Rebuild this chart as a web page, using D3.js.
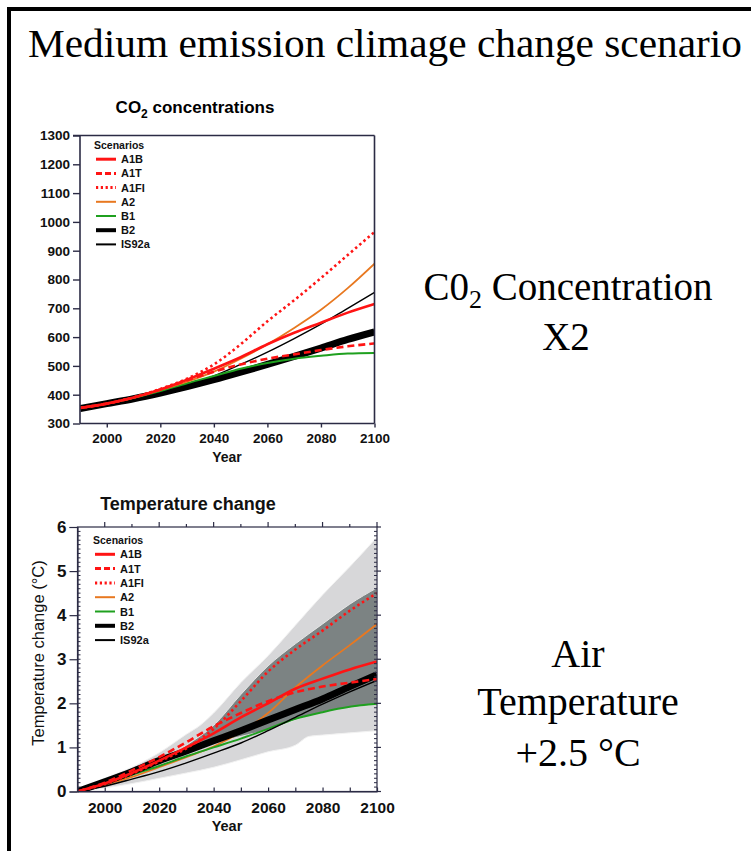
<!DOCTYPE html>
<html><head><meta charset="utf-8">
<script src="https://cdn.jsdelivr.net/npm/d3@7/dist/d3.min.js"></script>
<style>html,body{margin:0;padding:0;background:#fff;}svg{display:block;}</style>
</head><body>
<svg id="c" width="751" height="851"></svg>
<script>
// ---------- data ----------
const years = [1990,2000,2010,2020,2030,2040,2050,2060,2070,2080,2090,2100];
const scenarios = ["A1B","A1T","A1FI","A2","B1","B2","IS92a"];

// CO2 concentrations (ppm)
const co2_A1B  = [354,369,390,418,452,490,530,575,615,650,685,715];
const co2_A1T  = [354,369,390,418,450,480,505,525,540,555,568,578];
const co2_A1FI = [354,369,391,420,456,505,575,655,728,805,885,965];
const co2_A2   = [354,369,389,416,445,480,525,575,632,695,770,855];
const co2_B1   = [354,369,389,413,440,465,490,510,525,535,543,545];
const co2_B2   = [352,369,386,406,428,452,478,505,533,562,592,618];
const co2_IS92a= [354,369,388,410,436,465,505,548,595,645,700,755];

// Temperature change (°C)
const t_A1B  = [0,0.18,0.42,0.70,1.00,1.32,1.68,2.00,2.33,2.56,2.77,2.95];
const t_A1T  = [0,0.20,0.48,0.78,1.12,1.48,1.78,2.05,2.25,2.38,2.47,2.55];
const t_A1FI = [0,0.17,0.40,0.68,0.98,1.42,2.05,2.72,3.22,3.65,4.10,4.50];
const t_A2   = [0,0.15,0.33,0.55,0.78,1.02,1.35,1.78,2.36,2.86,3.32,3.80];
const t_B1   = [0,0.18,0.38,0.58,0.80,1.00,1.20,1.42,1.65,1.80,1.92,1.99];
const t_B2   = [0,0.22,0.45,0.70,0.92,1.15,1.38,1.62,1.86,2.10,2.38,2.65];
const t_IS92a= [0,0.12,0.28,0.45,0.65,0.87,1.10,1.38,1.68,1.98,2.26,2.52];

// Envelopes
const bandLightYears = [1990,2000,2010,2020,2030,2035,2040,2050,2060,2070,2075,2080,2090,2100];
const bandLightUpper = [0,0.30,0.55,0.88,1.30,1.50,1.78,2.47,3.08,3.77,4.12,4.46,5.10,5.77];
const bandLightLower = [0,0.08,0.18,0.30,0.42,0.48,0.55,0.72,0.90,1.05,1.25,1.28,1.33,1.38];
const bandDarkYears  = [2025,2030,2040,2050,2060,2070,2080,2090,2100];
const bandDarkUpper  = [0.85,1.05,1.50,2.20,2.85,3.35,3.80,4.25,4.62];
const bandDarkLower  = [0.85,0.95,1.10,1.25,1.40,1.62,1.80,1.90,1.97];

const co2Ticks = [300,400,500,600,700,800,900,1000,1100,1200,1300];
const tempTicks = [0,1,2,3,4,5,6];
const yearTicks = [2000,2020,2040,2060,2080,2100];

const styles = {
  A1B:  {color:"#ff1414", w:2.6, dash:null, lw:3},
  A1T:  {color:"#ff1414", w:2.6, dash:"7,4", lw:3},
  A1FI: {color:"#ff1414", w:2.6, dash:"2.5,3", lw:3},
  A2:   {color:"#e87820", w:1.8, dash:null, lw:2},
  B1:   {color:"#1fa01f", w:2, dash:null, lw:2},
  B2:   {color:"#000000", w:7, dash:null, lw:4},
  IS92a:{color:"#000000", w:1.4, dash:null, lw:2}
};
const co2Series = {A1B:co2_A1B,A1T:co2_A1T,A1FI:co2_A1FI,A2:co2_A2,B1:co2_B1,B2:co2_B2,IS92a:co2_IS92a};
const tSeries = {A1B:t_A1B,A1T:t_A1T,A1FI:t_A1FI,A2:t_A2,B1:t_B1,B2:t_B2,IS92a:t_IS92a};

const svg = d3.select("#c");
const sans = "Liberation Sans, Arial, Helvetica, sans-serif";
const serif = "Liberation Serif, Times New Roman, serif";

// outer frame
svg.append("path").attr("d","M9,860 L9,9 L760,9").attr("fill","none").attr("stroke","#000").attr("stroke-width",4);

// main title
svg.append("text").attr("x",28).attr("y",57).attr("font-family",serif).attr("font-size",41)
  .attr("textLength",714).attr("lengthAdjust","spacingAndGlyphs").text("Medium emission climage change scenario");

function legend(g, x0, y0, dy){
  g.append("text").attr("x",x0).attr("y",y0+4).attr("font-family",sans).attr("font-size",10.5)
    .attr("font-weight","bold").attr("fill","#111").text("Scenarios");
  scenarios.forEach((s,i)=>{
    const y = y0 + dy*(i+1);
    const st = styles[s];
    g.append("line").attr("x1",x0+2).attr("x2",x0+22).attr("y1",y).attr("y2",y)
      .attr("stroke",st.color).attr("stroke-width",st.lw).attr("stroke-dasharray",st.dash ? (s==="A1T"?"6,3":"2.2,2.6") : null);
    g.append("text").attr("x",x0+27).attr("y",y+4).attr("font-family",sans).attr("font-size",11)
      .attr("font-weight","bold").attr("fill","#111").text(s);
  });
}

// ---------- CO2 chart ----------
{
  const x = d3.scaleLinear().domain([1990,2100]).range([80,374.5]);
  const y = d3.scaleLinear().domain([300,1300]).range([423.5,135.5]);
  const g = svg.append("g");
  const axisCol = "#2b2b44";
  g.append("text").attr("x",195).attr("y",113).attr("text-anchor","middle").attr("font-family",sans)
    .attr("font-size",17).attr("font-weight","bold")
    .call(t=>{t.append("tspan").text("CO");t.append("tspan").attr("font-size",12).attr("dy",5).text("2");t.append("tspan").attr("dy",-5).text(" concentrations");});

  const clipId="clipA";
  g.append("clipPath").attr("id",clipId).append("rect").attr("x",80).attr("y",135.5).attr("width",294.5).attr("height",288);
  const line = d3.line().x((d,i)=>x(years[i])).y(d=>y(d)).curve(d3.curveMonotoneX);
  const lg = g.append("g").attr("clip-path",`url(#${clipId})`);
  ["B2","IS92a","B1","A2","A1T","A1B","A1FI"].forEach(s=>{
    const st = styles[s];
    lg.append("path").attr("d",line(co2Series[s])).attr("fill","none").attr("stroke",st.color)
      .attr("stroke-width",st.w).attr("stroke-dasharray",st.dash).attr("stroke-linecap","butt");
  });

  const ya = d3.axisLeft(y).tickValues(co2Ticks).tickSize(7).tickPadding(3).tickFormat(d3.format("d"));
  const yg = g.append("g").attr("transform","translate(80,0)").call(ya);
  const xa = d3.axisBottom(x).tickValues(yearTicks).tickSize(4).tickPadding(6).tickFormat(d3.format("d"));
  const xg = g.append("g").attr("transform","translate(0,423.5)").call(xa);
  [yg,xg].forEach(a=>{a.select(".domain").attr("stroke",axisCol).attr("stroke-width",1.6);
    a.selectAll(".tick line").attr("stroke",axisCol).attr("stroke-width",1.4);
    a.selectAll("text").attr("font-family",sans).attr("font-size",13.5).attr("font-weight","bold").attr("fill","#111");});
  xg.select(".domain").attr("d","M80,0H374.5");
  yg.select(".domain").attr("d","M0,135.5V423.5");
  g.append("line").attr("x1",73).attr("x2",374.5).attr("y1",135.5).attr("y2",135.5).attr("stroke",axisCol).attr("stroke-width",1.6);
  g.append("line").attr("x1",374.5).attr("x2",374.5).attr("y1",135.5).attr("y2",423.5).attr("stroke",axisCol).attr("stroke-width",1.6);
  g.append("text").attr("x",227).attr("y",462).attr("text-anchor","middle").attr("font-family",sans)
    .attr("font-size",14).attr("font-weight","bold").attr("fill","#111").text("Year");
  legend(g, 94, 145, 14.2);
}

// ---------- Temperature chart ----------
{
  const x = d3.scaleLinear().domain([1990,2100]).range([77.5,377]);
  const y = d3.scaleLinear().domain([0,6]).range([791.5,527]);
  const g = svg.append("g");
  const axisCol = "#2b2b44";
  g.append("text").attr("x",188).attr("y",510).attr("text-anchor","middle").attr("font-family",sans)
    .attr("font-size",18).attr("font-weight","bold").attr("fill","#111").text("Temperature change");

  const area = (yrs)=>d3.area().x((d,i)=>x(yrs[i])).y0(d=>y(d[0])).y1(d=>y(d[1])).curve(d3.curveMonotoneX);
  g.append("path").attr("d",area(bandLightYears)(bandLightLower.map((v,i)=>[v,bandLightUpper[i]])))
    .attr("fill","#d7d7d9").attr("stroke","#f2f2f2").attr("stroke-width",1);
  g.append("path").attr("d",area(bandDarkYears)(bandDarkLower.map((v,i)=>[v,bandDarkUpper[i]])))
    .attr("fill","#7c8383").attr("stroke","#e6e6e6").attr("stroke-width",1);

  const clipId="clipB";
  g.append("clipPath").attr("id",clipId).append("rect").attr("x",77.5).attr("y",527).attr("width",299.5).attr("height",264.5);
  const line = d3.line().x((d,i)=>x(years[i])).y(d=>y(d)).curve(d3.curveMonotoneX);
  const lg = g.append("g").attr("clip-path",`url(#${clipId})`);
  ["A2","B1","IS92a","B2","A1T","A1B","A1FI"].forEach(s=>{
    const st = styles[s];
    lg.append("path").attr("d",line(tSeries[s])).attr("fill","none").attr("stroke",st.color)
      .attr("stroke-width",st.w).attr("stroke-dasharray",st.dash).attr("stroke-linecap","butt");
  });

  // frame
  g.append("rect").attr("x",77.5).attr("y",527).attr("width",299.5).attr("height",264.5)
    .attr("fill","none").attr("stroke",axisCol).attr("stroke-width",1.2);
  // minor ticks left/right
  const minor = d3.range(0,60).map(i=>i/10);
  g.append("g").selectAll("line").data(minor).join("line")
    .attr("x1",77.5).attr("x2",80.5).attr("y1",d=>y(d)).attr("y2",d=>y(d)).attr("stroke",axisCol).attr("stroke-width",1);
  g.append("g").selectAll("line").data(minor).join("line")
    .attr("x1",374).attr("x2",377).attr("y1",d=>y(d)).attr("y2",d=>y(d)).attr("stroke",axisCol).attr("stroke-width",1);
  g.append("g").selectAll("line").data(tempTicks).join("line")
    .attr("x1",377).attr("x2",381).attr("y1",d=>y(d)).attr("y2",d=>y(d)).attr("stroke",axisCol).attr("stroke-width",1.2);
  // top ticks
  const decades = d3.range(2000,2101,10);
  g.append("g").selectAll("line").data(decades).join("line")
    .attr("x1",d=>x(d)).attr("x2",d=>x(d)).attr("y1",527).attr("y2",d=>d%20===0?522:524)
    .attr("stroke",axisCol).attr("stroke-width",1.2);

  const ya = d3.axisLeft(y).tickValues(tempTicks).tickSize(8).tickPadding(3).tickFormat(d3.format("d"));
  const yg = g.append("g").attr("transform","translate(77.5,0)").call(ya);
  const xa = d3.axisBottom(x).tickValues(decades).tickSizeInner(-4).tickSizeOuter(0).tickPadding(10)
    .tickFormat(d=>d%20===0?d3.format("d")(d):"");
  const xg = g.append("g").attr("transform","translate(0,791.5)").call(xa);
  [yg,xg].forEach(a=>{a.select(".domain").attr("stroke",axisCol).attr("stroke-width",1.2);
    a.selectAll(".tick line").attr("stroke",axisCol).attr("stroke-width",1.2);
    a.selectAll("text").attr("font-family",sans).attr("font-weight","bold").attr("fill","#111");});
  yg.selectAll("text").attr("font-size",17);
  xg.selectAll("text").attr("font-size",15.5);
  g.append("text").attr("x",227).attr("y",831).attr("text-anchor","middle").attr("font-family",sans)
    .attr("font-size",14.5).attr("font-weight","bold").attr("fill","#111").text("Year");
  g.append("text").attr("transform","translate(44,653) rotate(-90)").attr("text-anchor","middle")
    .attr("font-family",sans).attr("font-size",16.5).attr("fill","#111").text("Temperature change (°C)");
  legend(g, 93, 540, 14.3);
}

// ---------- right-hand annotations ----------
svg.append("text").attr("x",568).attr("y",300).attr("text-anchor","middle").attr("font-family",serif).attr("font-size",39)
  .call(t=>{t.append("tspan").text("C0");t.append("tspan").attr("font-size",26).attr("dy",8).text("2");t.append("tspan").attr("dy",-8).text(" Concentration");});
svg.append("text").attr("x",566).attr("y",350).attr("text-anchor","middle").attr("font-family",serif).attr("font-size",39).text("X2");
[["Air",667],["Temperature",715],["+2.5 °C",766]].forEach(([s,yy])=>{
  svg.append("text").attr("x",578).attr("y",yy).attr("text-anchor","middle").attr("font-family",serif).attr("font-size",40).text(s);
});
</script>
</body></html>
